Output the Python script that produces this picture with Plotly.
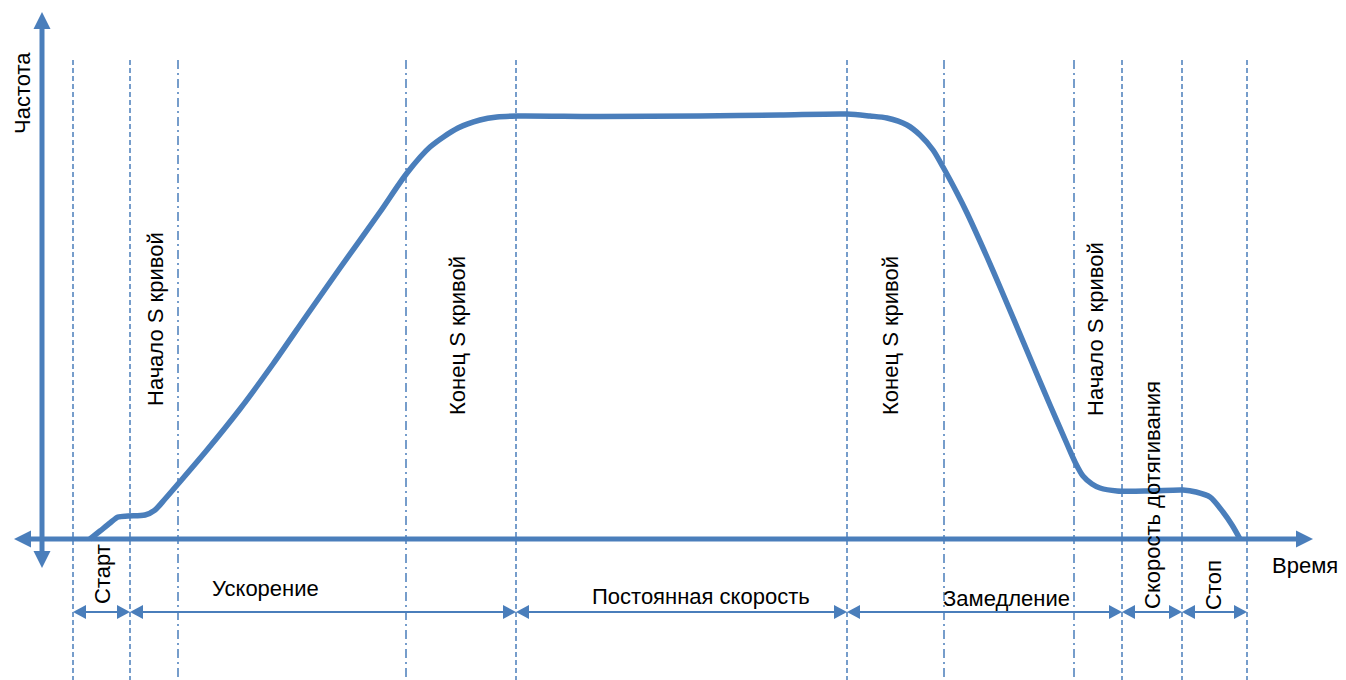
import plotly.graph_objects as go

# Frequency profile (time, frequency); origin at the axes crossing
time = [48, 58, 68, 76, 86, 103, 113, 123, 136, 165, 198, 231, 265, 298, 338, 365,
        388, 416, 438, 455, 475, 558, 658, 738, 805, 828, 845, 865, 878, 891, 901,
        915, 925, 945, 958, 975, 991, 1008, 1025, 1033, 1041, 1050, 1058, 1075,
        1108, 1141, 1154, 1168, 1181, 1190, 1198]
freq = [0, 8, 16, 22, 23, 24, 29, 40, 55, 89, 130, 175, 224, 271, 327, 366,
        392, 411, 419, 422, 423, 422.5, 423, 424, 425, 423, 421, 414, 404, 389, 372,
        346, 326, 282, 252, 212, 174, 134, 95, 77, 63, 55, 51, 48,
        48, 49, 47, 42, 27, 14, 0]

# Phase boundaries (dashed) and S-curve markers (dash-dot)
phase_bounds = [31, 88, 474, 805, 1080, 1140, 1205]
s_marks = [136, 364, 902, 1032]

# Phase labels under the time axis: text, centre time, level, rotated?
phase_labels = [
    ("Старт", 60, -35, True),
    ("Ускорение", 223, -49, False),
    ("Постоянная скорость", 659, -57, False),
    ("Замедление", 964, -59, False),
    ("Скорость дотягивания", 1110, 44, True),
    ("Стоп", 1171, -46, True),
]
s_labels = [
    ("Начало S кривой", 113, 220),
    ("Конец S кривой", 415, 203),
    ("Конец S кривой", 848, 203),
    ("Начало S кривой", 1053, 210),
]

BLUE = "#4A7EBB"
FONT = "Liberation Sans, Arial, sans-serif"
# the page body has an 8px margin, so the figure is 8px smaller and starts 8px in
X_RANGE = [-34, 1304]
Y_RANGE = [-141, 531]
ROW_LEVEL = -73


def head(tx, ty, dx, dy, length, half):
    # filled triangle whose tip is (tx, ty), pointing along (dx, dy)
    bx, by = tx - dx * length, ty - dy * length
    px, py = -dy * half, dx * half
    return dict(type="path", xref="x", yref="y", layer="above",
                path=f"M{tx},{ty} L{bx + px},{by + py} L{bx - px},{by - py} Z",
                fillcolor=BLUE, line=dict(width=0))


shapes = []
for b in phase_bounds:
    shapes.append(dict(type="line", xref="x", yref="y", x0=b, x1=b, y0=479, y1=Y_RANGE[0],
                       layer="below", line=dict(color=BLUE, width=1.5, dash="5px,3px")))
for s in s_marks:
    shapes.append(dict(type="line", xref="x", yref="y", x0=s, x1=s, y0=479, y1=Y_RANGE[0],
                       layer="below", line=dict(color=BLUE, width=1.5, dash="9px,4px,2px,4px")))

# main axes, double headed
shapes.append(dict(type="line", xref="x", yref="y", x0=0, x1=0, y0=-14, y1=511,
                   layer="above", line=dict(color=BLUE, width=5)))
shapes.append(dict(type="line", xref="x", yref="y", x0=-12, x1=1254, y0=0, y1=0,
                   layer="above", line=dict(color=BLUE, width=5)))
shapes += [head(0, 527, 0, 1, 17, 8.5), head(0, -29, 0, -1, 17, 8.5),
           head(-28, 0, -1, 0, 17, 8.5), head(1271, 0, 1, 0, 17, 8.5)]

# phase span arrows
for a, b in zip(phase_bounds[:-1], phase_bounds[1:]):
    shapes.append(dict(type="line", xref="x", yref="y", x0=a + 6, x1=b - 6,
                       y0=ROW_LEVEL, y1=ROW_LEVEL, layer="above",
                       line=dict(color=BLUE, width=2)))
    shapes += [head(a, ROW_LEVEL, -1, 0, 13, 7), head(b, ROW_LEVEL, 1, 0, 13, 7)]

fig = go.Figure()
fig.add_trace(go.Scatter(x=time, y=freq, mode="lines",
                         line=dict(color=BLUE, width=5.5, shape="spline", smoothing=0.8),
                         hoverinfo="skip", showlegend=False))

annotations = [
    dict(text="Частота", x=-20, y=446, textangle=-90),
    dict(text="Время", x=1263, y=-26),
]
for txt, t, f, rot in phase_labels:
    annotations.append(dict(text=txt, x=t, y=f, textangle=-90 if rot else 0))
for txt, t, f in s_labels:
    annotations.append(dict(text=txt, x=t, y=f, textangle=-90))
for a in annotations:
    a.update(xref="x", yref="y", showarrow=False, xanchor="center", yanchor="middle",
             font=dict(family=FONT, size=22, color="black"))

fig.update_layout(
    width=1338, height=672,
    margin=dict(l=0, r=0, t=0, b=0, pad=0),
    paper_bgcolor="white", plot_bgcolor="white",
    xaxis=dict(range=X_RANGE, visible=False, fixedrange=True),
    yaxis=dict(range=Y_RANGE, visible=False, fixedrange=True),
    shapes=shapes, annotations=annotations,
    showlegend=False,
)

fig.write_html("out.html")
